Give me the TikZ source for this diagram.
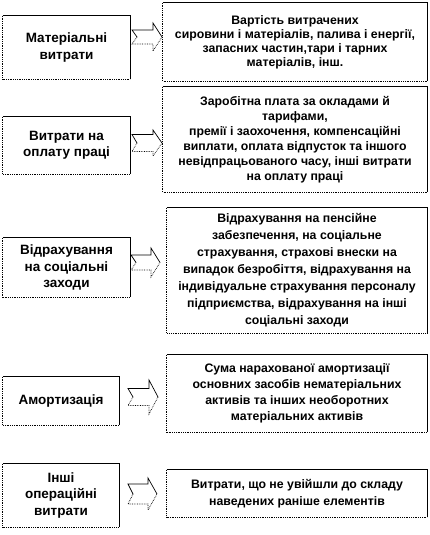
\documentclass[tikz,border=0pt]{standalone}
\usepackage{fontspec}
\setmainfont{Liberation Sans}
\usepackage{tikz}

\newcommand\blockarrow[5]{%
\draw[line width=0.7pt] (#1+5,#2) -- (#1,#2-#5) -- (#1+#3-9,#2-#5) -- (#1+#3-9,#2-#4) -- (#1+#3,#2);
\draw[line width=0.7pt,densely dotted] (#1+5,#2) -- (#1,#2+#5) -- (#1+#3-9,#2+#5) -- (#1+#3-9,#2+#4) -- (#1+#3,#2);}

\begin{document}
\begin{tikzpicture}[x=1pt,y=-1pt,
  leftbox/.style={inner sep=0pt,align=center,font=\fontsize{13.5}{16.5}\selectfont\bfseries},
  rightbox/.style={inner sep=0pt,align=center,font=\fontsize{12.3}{#1}\selectfont\bfseries},
  edge/.style={line width=0.8pt}]
\useasboundingbox (0,0) rectangle (430,535);
\node[leftbox,minimum width=127pt,minimum height=63pt] (mat) at (66.5,47.5) {Матеріальні\\витрати};
\node[rightbox=14,minimum width=264pt,minimum height=78pt] (matd) at (295,42) {Вартість  витрачених\\сировини і матеріалів,  палива і енергії,\\запасних частин,тари  і тарних\\матеріалів,  інш.};
\node[leftbox,minimum width=127pt,minimum height=57pt] (opl) at (66.5,145.5) {Витрати на\\оплату праці};
\node[rightbox=15,minimum width=264pt,minimum height=105pt] (opld) at (295,139.5) {Заробітна  плата  за  окладами  й\\тарифами,\\премії  і заохочення, компенсаційні\\виплати,  оплата  відпусток та  іншого\\невідпрацьованого  часу, інші витрати\\на оплату  праці};
\node[leftbox,minimum width=127pt,minimum height=59pt] (soc) at (66.5,267.5) {Відрахування\\на соціальні\\заходи};
\node[rightbox=17,minimum width=260pt,minimum height=125pt] (socd) at (297,270.5) {Відрахування  на пенсійне\\забезпечення,  на соціальне\\страхування,  страхові внески на\\випадок безробіття,  відрахування на\\індивідуальне  страхування персоналу\\підприємства,  відрахування на інші\\соціальні  заходи};
\node[leftbox,minimum width=116pt,minimum height=48pt] (amo) at (61,401) {Амортизація};
\node[rightbox=16,minimum width=260pt,minimum height=77pt] (amod) at (297,393.5) {Сума нарахованої  амортизації\\основних засобів нематеріальних\\активів та інших необоротних\\матеріальних  активів};
\node[leftbox,minimum width=116pt,minimum height=63pt] (inh) at (61,495.5) {Інші\\операційні\\витрати};
\node[rightbox=17,minimum width=260pt,minimum height=47pt] (inhd) at (297,493.5) {Витрати,  що не увійшли до складу\\наведених  раніше  елементів};
\foreach \n in {mat,matd,opl,opld,soc,socd,amo,amod,inh,inhd} {
  \draw[edge] (\n.north west) -- (\n.north east) -- (\n.south east);
  \draw[edge,densely dotted] (\n.north west) -- (\n.south west) -- (\n.south east);
}
\blockarrow{132}{37}{30}{14}{7}
\blockarrow{132}{143}{30}{13}{8.5}
\blockarrow{131}{262.5}{29}{14.5}{7.5}
\blockarrow{128}{397}{30}{17}{8.5}
\blockarrow{128}{494}{29}{16}{10}
\end{tikzpicture}
\end{document}
